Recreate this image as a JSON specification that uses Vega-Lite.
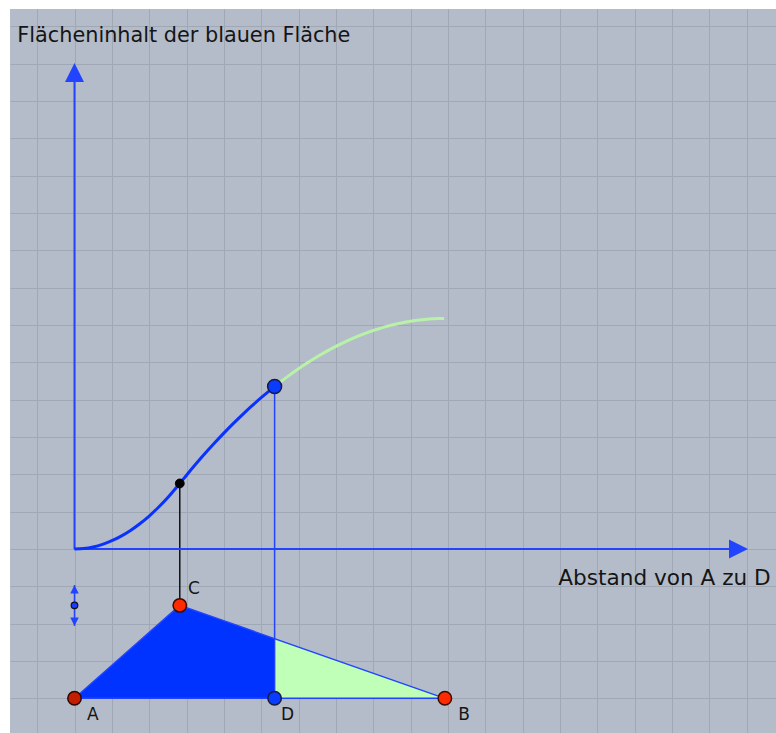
{
  "$schema": "https://vega.github.io/schema/vega-lite/v6.json",
  "width": 766,
  "height": 724,
  "autosize": {"type": "none"},
  "padding": {"left": 10, "top": 9, "right": 0, "bottom": 0},
  "background": "white",
  "config": {
    "view": {"fill": "#b4bcc9", "stroke": null},
    "axis": {
      "grid": true, "gridColor": "#a1a8b5", "gridWidth": 1, "gridOpacity": 1,
      "labels": false, "ticks": false, "domain": false, "title": null,
      "minExtent": 0, "maxExtent": 0, "offset": 0
    },
    "text": {"font": "DejaVu Sans"}
  },
  "datasets": {
    "blueRegion": [{"x": 0, "y": -4}, {"x": 2.82, "y": -1.51}, {"x": 5.36, "y": -2.401}],
    "greenRegion": [{"x": 5.36, "y": -2.401}, {"x": 9.92, "y": -4}],
    "tri": [{"o": 0, "x": 0, "y": -4}, {"o": 1, "x": 2.82, "y": -1.51}, {"o": 2, "x": 9.92, "y": -4}, {"o": 3, "x": 0, "y": -4}],
    "curveBlue": [
      {"x": 0, "y": 0}, {"x": 0.25, "y": 0.0138}, {"x": 0.5, "y": 0.0552}, {"x": 0.75, "y": 0.1242},
      {"x": 1, "y": 0.2207}, {"x": 1.25, "y": 0.3449}, {"x": 1.5, "y": 0.4967}, {"x": 1.75, "y": 0.676},
      {"x": 2, "y": 0.883}, {"x": 2.25, "y": 1.1175}, {"x": 2.5, "y": 1.3796}, {"x": 2.82, "y": 1.7554},
      {"x": 3, "y": 1.9767}, {"x": 3.25, "y": 2.2746}, {"x": 3.5, "y": 2.5615}, {"x": 3.75, "y": 2.8375},
      {"x": 4, "y": 3.1025}, {"x": 4.25, "y": 3.3565}, {"x": 4.5, "y": 3.5996}, {"x": 4.75, "y": 3.8317},
      {"x": 5, "y": 4.0529}, {"x": 5.25, "y": 4.2631}, {"x": 5.36, "y": 4.3521}
    ],
    "curveGreen": [
      {"x": 5.36, "y": 4.3521}, {"x": 5.5, "y": 4.4624}, {"x": 5.75, "y": 4.6506}, {"x": 6, "y": 4.8279},
      {"x": 6.25, "y": 4.9943}, {"x": 6.5, "y": 5.1497}, {"x": 6.75, "y": 5.2942}, {"x": 7, "y": 5.4276},
      {"x": 7.25, "y": 5.5502}, {"x": 7.5, "y": 5.6617}, {"x": 7.75, "y": 5.7623}, {"x": 8, "y": 5.852},
      {"x": 8.25, "y": 5.9307}, {"x": 8.5, "y": 5.9984}, {"x": 8.75, "y": 6.0552}, {"x": 9, "y": 6.101},
      {"x": 9.25, "y": 6.1358}, {"x": 9.5, "y": 6.1597}, {"x": 9.75, "y": 6.1727}, {"x": 9.9, "y": 6.1752}
    ],
    "blueRule": [{"x": 5.36, "y": -4, "y2": 4.352}],
    "blackRule": [{"x": 2.82, "y": -1.51, "y2": 1.755}],
    "axisLines": [{"x": 0, "y": 0, "x2": 17.6, "y2": 0}, {"x": 0, "y": 0, "x2": 0, "y2": 12.6}],
    "arrowRight": [{"x": 18.04, "y": 0}],
    "arrowUp": [{"x": 0, "y": 13.02}],
    "sliderStem": [{"x": 0, "y": -0.964, "y2": -2.063}],
    "sliderUp": [{"x": 0, "y": -0.964}],
    "sliderDown": [{"x": 0, "y": -2.063}],
    "sliderDot": [{"x": 0, "y": -1.51}],
    "ptRed": [{"x": 2.82, "y": -1.51}, {"x": 9.92, "y": -4}],
    "ptDarkRed": [{"x": 0, "y": -4}],
    "ptBlue": [{"x": 5.36, "y": -4}],
    "ptCurve": [{"x": 5.36, "y": 4.352}],
    "ptBlack": [{"x": 2.82, "y": 1.755}],
    "labels": [
      {"t": "A", "x": 0.335, "y": -4.581}, {"t": "C", "x": 3.04, "y": -1.205},
      {"t": "D", "x": 5.53, "y": -4.581}, {"t": "B", "x": 10.28, "y": -4.581}
    ],
    "titleY": [{"t": "Flächeninhalt der blauen Fläche", "x": -1.532, "y": 13.573}],
    "titleX": [{"t": "Abstand von A zu D", "x": 12.96, "y": -0.964}]
  },
  "encoding": {
    "x": {"field": "x", "type": "quantitative",
      "scale": {"domain": [-1.7277, 18.79], "nice": false, "zero": false},
      "axis": {"values": [-1,0,1,2,3,4,5,6,7,8,9,10,11,12,13,14,15,16,17,18]}},
    "y": {"field": "y", "type": "quantitative",
      "scale": {"domain": [-4.929, 14.464], "nice": false, "zero": false},
      "axis": {"values": [-4,-3,-2,-1,0,1,2,3,4,5,6,7,8,9,10,11,12,13,14]}}
  },
  "layer": [
    {"data": {"name": "blueRegion"}, "mark": {"type": "area", "color": "#0033ff", "opacity": 1}, "encoding": {"y2": {"datum": -4}}},
    {"data": {"name": "greenRegion"}, "mark": {"type": "area", "color": "#bfffb8", "opacity": 1}, "encoding": {"y2": {"datum": -4}}},
    {"data": {"name": "tri"}, "mark": {"type": "line", "color": "#2244ff", "strokeWidth": 1.4}, "encoding": {"order": {"field": "o"}}},
    {"data": {"name": "blueRule"}, "mark": {"type": "rule", "color": "#2244ff", "strokeWidth": 1.5}, "encoding": {"y2": {"field": "y2"}}},
    {"data": {"name": "blackRule"}, "mark": {"type": "rule", "color": "#111111", "strokeWidth": 1.5}, "encoding": {"y2": {"field": "y2"}}},
    {"data": {"name": "axisLines"}, "mark": {"type": "rule", "color": "#2244ff", "strokeWidth": 2}, "encoding": {"x2": {"field": "x2"}, "y2": {"field": "y2"}}},
    {"data": {"name": "arrowRight"}, "mark": {"type": "point", "shape": "M0,0L-2,-1L-2,1Z", "size": 361, "filled": true, "color": "#2244ff", "opacity": 1}},
    {"data": {"name": "arrowUp"}, "mark": {"type": "point", "shape": "M0,0L-1,2L1,2Z", "size": 361, "filled": true, "color": "#2244ff", "opacity": 1}},
    {"data": {"name": "curveBlue"}, "mark": {"type": "line", "color": "#0a32ff", "strokeWidth": 3, "interpolate": "monotone"}},
    {"data": {"name": "curveGreen"}, "mark": {"type": "line", "color": "#b8f2a8", "strokeWidth": 3, "interpolate": "monotone"}},
    {"data": {"name": "sliderStem"}, "mark": {"type": "rule", "color": "#2244ff", "strokeWidth": 1.5}, "encoding": {"y2": {"field": "y2"}}},
    {"data": {"name": "sliderUp"}, "mark": {"type": "point", "shape": "M0,0L-1,2L1,2Z", "size": 72, "filled": true, "color": "#2244ff", "opacity": 1}},
    {"data": {"name": "sliderDown"}, "mark": {"type": "point", "shape": "M0,0L-1,-2L1,-2Z", "size": 72, "filled": true, "color": "#2244ff", "opacity": 1}},
    {"data": {"name": "sliderDot"}, "mark": {"type": "circle", "size": 44, "fill": "#1a3cff", "stroke": "#111111", "strokeWidth": 1.2, "opacity": 1}},
    {"data": {"name": "ptBlack"}, "mark": {"type": "circle", "size": 78, "fill": "#000000", "stroke": "#000000", "strokeWidth": 1, "opacity": 1}},
    {"data": {"name": "ptCurve"}, "mark": {"type": "circle", "size": 195, "fill": "#0a3cff", "stroke": "#1a1a3a", "strokeWidth": 1.5, "opacity": 1}},
    {"data": {"name": "ptBlue"}, "mark": {"type": "circle", "size": 180, "fill": "#0a3cff", "stroke": "#1a1a3a", "strokeWidth": 1.5, "opacity": 1}},
    {"data": {"name": "ptRed"}, "mark": {"type": "circle", "size": 180, "fill": "#ff2a00", "stroke": "#3a0a00", "strokeWidth": 1.5, "opacity": 1}},
    {"data": {"name": "ptDarkRed"}, "mark": {"type": "circle", "size": 180, "fill": "#c41e00", "stroke": "#2a0800", "strokeWidth": 1.5, "opacity": 1}},
    {"data": {"name": "labels"}, "mark": {"type": "text", "align": "left", "baseline": "alphabetic", "fontSize": 17, "color": "#151515"}, "encoding": {"text": {"field": "t"}}},
    {"data": {"name": "titleY"}, "mark": {"type": "text", "align": "left", "baseline": "alphabetic", "fontSize": 20.8, "color": "#151515"}, "encoding": {"text": {"field": "t"}}},
    {"data": {"name": "titleX"}, "mark": {"type": "text", "align": "left", "baseline": "alphabetic", "fontSize": 21.6, "color": "#151515"}, "encoding": {"text": {"field": "t"}}}
  ]
}
